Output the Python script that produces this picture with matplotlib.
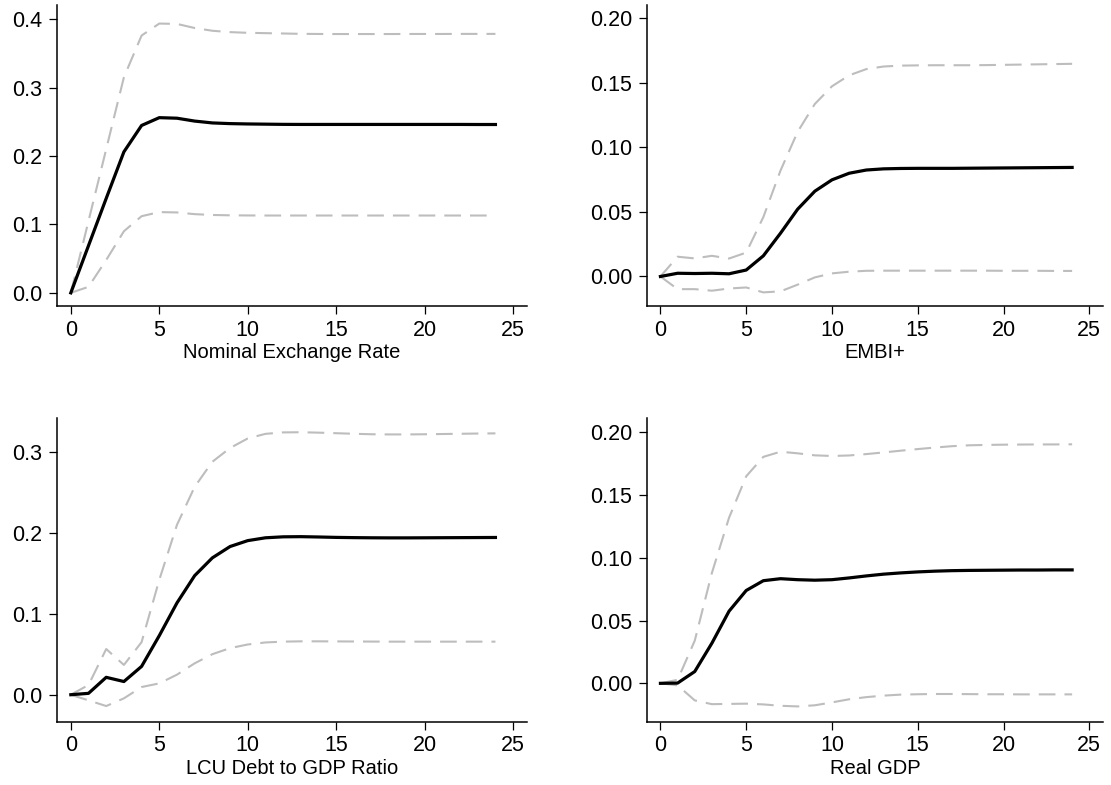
import numpy as np
import matplotlib
matplotlib.use("Agg")
import matplotlib.pyplot as plt
from matplotlib.ticker import FormatStrFormatter

plt.rcParams['font.family'] = ['Liberation Sans', 'DejaVu Sans']
plt.rcParams['lines.scale_dashes'] = False

horizon = np.arange(25)

# impulse responses with lower / upper bands
fx_irf = [0, 0.069, 0.138, 0.206, 0.2446, 0.2560, 0.2552, 0.2510, 0.2483, 0.2473, 0.2468, 0.2465, 0.2462,
          0.2461, 0.2461, 0.2461, 0.2461, 0.2461, 0.2461, 0.2461, 0.2461, 0.2461, 0.2461, 0.2460, 0.2460]
fx_hi = [0, 0.105, 0.210, 0.315, 0.376, 0.3935, 0.3930, 0.387, 0.383, 0.381, 0.380, 0.3795, 0.379,
         0.3785, 0.3783, 0.3782, 0.3782, 0.3782, 0.3782, 0.3783, 0.3783, 0.3783, 0.3784, 0.3784, 0.3784]
fx_lo = [0, 0.0088, 0.048, 0.090, 0.112, 0.118, 0.1175, 0.1150, 0.1138, 0.1133, 0.1131, 0.1130, 0.1130,
         0.1130, 0.1130, 0.1130, 0.1130, 0.1130, 0.1130, 0.1130, 0.1130, 0.1130, 0.1130, 0.1130, 0.1130]

embi_irf = [0, 0.0025, 0.0023, 0.0025, 0.0021, 0.0050, 0.0160, 0.0335, 0.0521, 0.0660, 0.0748, 0.0799, 0.0824,
            0.0833, 0.0836, 0.0837, 0.0837, 0.0837, 0.0838, 0.0839, 0.0840, 0.0841, 0.0842, 0.0843, 0.0844]
embi_hi = [0, 0.0153, 0.0140, 0.0160, 0.0139, 0.0185, 0.046, 0.082, 0.112, 0.1335, 0.1472, 0.1557, 0.1605,
           0.1625, 0.1632, 0.1634, 0.1635, 0.1635, 0.1635, 0.1636, 0.1638, 0.1640, 0.1642, 0.1644, 0.1646]
embi_lo = [0, -0.0098, -0.0098, -0.0110, -0.0093, -0.0085, -0.0123, -0.0115, -0.0063, -0.0007, 0.0024, 0.0037,
           0.0044, 0.0045, 0.0045, 0.0045, 0.0045, 0.0045, 0.0045, 0.0045, 0.0044, 0.0044, 0.0044, 0.0043, 0.0043]

lcu_irf = [0, 0.0017, 0.0215, 0.0163, 0.0350, 0.0730, 0.1135, 0.1472, 0.1692, 0.1832, 0.1905, 0.1940, 0.1952,
           0.1954, 0.1950, 0.1945, 0.1942, 0.1940, 0.1939, 0.1939, 0.1940, 0.1941, 0.1942, 0.1943, 0.1944]
lcu_hi = [0, 0.012, 0.0565, 0.0368, 0.0650, 0.142, 0.210, 0.257, 0.288, 0.305, 0.3168, 0.3225, 0.3243,
          0.3245, 0.3240, 0.3233, 0.3226, 0.3220, 0.3218, 0.3218, 0.3220, 0.3223, 0.3226, 0.3229, 0.3231]
lcu_lo = [0, -0.0070, -0.0140, -0.0045, 0.0095, 0.0140, 0.0248, 0.0388, 0.0501, 0.0576, 0.0621, 0.0646, 0.0656,
          0.0660, 0.0660, 0.0659, 0.0658, 0.0657, 0.0656, 0.0656, 0.0656, 0.0656, 0.0656, 0.0656, 0.0656]

gdp_irf = [0, 0.0002, 0.0094, 0.0320, 0.0575, 0.0740, 0.0818, 0.0834, 0.0826, 0.0822, 0.0826, 0.0840, 0.0856,
           0.0870, 0.0880, 0.0888, 0.0894, 0.0898, 0.0900, 0.0901, 0.0902, 0.0903, 0.0903, 0.0904, 0.0904]
gdp_hi = [0, 0.0028, 0.034, 0.088, 0.132, 0.165, 0.1805, 0.1846, 0.1833, 0.1817, 0.1812, 0.1816, 0.1827,
          0.1840, 0.1854, 0.1867, 0.1879, 0.1890, 0.1897, 0.1900, 0.1902, 0.1903, 0.1904, 0.1904, 0.1905]
gdp_lo = [0, -0.0016, -0.0136, -0.0166, -0.0164, -0.0162, -0.0168, -0.0179, -0.0184, -0.0175, -0.0152, -0.0127,
          -0.0110, -0.0098, -0.0090, -0.0087, -0.0085, -0.0085, -0.0086, -0.0087, -0.0087, -0.0088, -0.0088,
          -0.0088, -0.0088]

titles = ['Nominal Exchange Rate', 'EMBI+', 'LCU Debt to GDP Ratio', 'Real GDP']


def irf_panel(rect, irf, lo, hi, label, ylim, yticks, fmt):
    ax = fig.add_axes(rect)
    band = dict(color='#bdbdbd', lw=1.5, dashes=(12, 6.5))
    ax.plot(horizon, hi, **band)
    ax.plot(horizon, lo, **band)
    ax.plot(horizon, irf, color='black', lw=2.3)
    ax.set_xlim(-0.8, 25.8)
    ax.set_ylim(*ylim)
    ax.set_xticks([0, 5, 10, 15, 20, 25])
    ax.set_yticks(yticks)
    ax.yaxis.set_major_formatter(FormatStrFormatter(fmt))
    ax.spines['top'].set_visible(False)
    ax.spines['right'].set_visible(False)
    for s in ('left', 'bottom'):
        ax.spines[s].set_linewidth(1.1)
    ax.tick_params(axis='y', length=6, width=0.9, labelsize=15.5, pad=4.5)
    ax.tick_params(axis='x', length=6, width=0.9, labelsize=15.5, pad=3.5)
    ax.set_xlabel(label, fontsize=14.5, labelpad=2)
    return ax


fig = plt.figure(figsize=(11.11, 7.85), dpi=100)

irf_panel([0.0510, 0.6096, 0.4236, 0.3840], fx_irf, fx_lo, fx_hi, titles[0],
          (-0.0199, 0.4206), [0, 0.1, 0.2, 0.3, 0.4], '%.1f')
irf_panel([0.5821, 0.6096, 0.4107, 0.3840], embi_irf, embi_lo, embi_hi, titles[1],
          (-0.0232, 0.2101), [0, 0.05, 0.10, 0.15, 0.20], '%.2f')
irf_panel([0.0510, 0.0806, 0.4236, 0.3865], lcu_irf, lcu_lo, lcu_hi, titles[2],
          (-0.0334, 0.3417), [0, 0.1, 0.2, 0.3], '%.1f')
irf_panel([0.5821, 0.0806, 0.4107, 0.3865], gdp_irf, gdp_lo, gdp_hi, titles[3],
          (-0.0306, 0.2112), [0, 0.05, 0.10, 0.15, 0.20], '%.2f')

fig.savefig('out.png', dpi=100)
